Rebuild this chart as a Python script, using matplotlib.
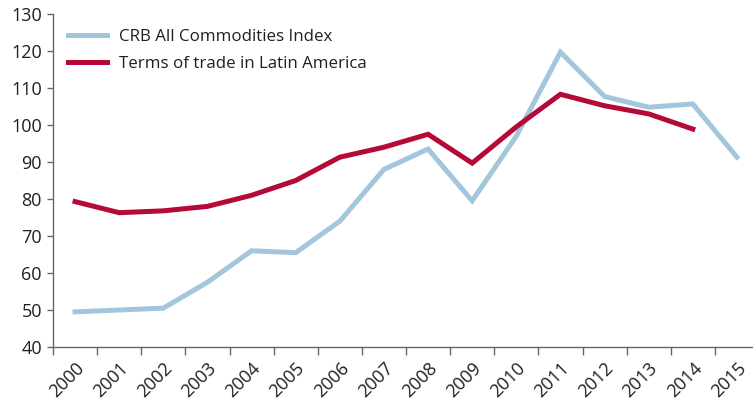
import matplotlib
matplotlib.use("Agg")
import matplotlib.pyplot as plt
import numpy as np

years = [str(y) for y in range(2000, 2016)]
crb_index = [49.5, 50.0, 50.5, 57.5, 66.0, 65.5, 74.0, 88.0, 93.5, 79.5,
             97.0, 119.7, 107.7, 104.8, 105.7, 91.3]
terms_of_trade = [79.3, 76.3, 76.8, 78.0, 81.0, 85.0, 91.3, 94.0, 97.5, 89.7,
                  99.5, 108.3, 105.2, 103.0, 98.9]

plt.rcParams['font.family'] = ['Open Sans', 'DejaVu Sans']

fig = plt.figure(figsize=(7.53, 4.04), dpi=100)
ax = fig.add_axes([53 / 753, 57 / 404, (759 - 53) / 753, (347 - 14) / 404])

x = np.arange(len(years))
ax.plot(x, crb_index, color='#a3c6dc', lw=3.6, solid_joinstyle='miter',
        label='CRB All Commodities Index')
ax.plot(x[:len(terms_of_trade)], terms_of_trade, color='#b50938', lw=3.6,
        solid_joinstyle='miter', label='Terms of trade in Latin America')

ax.set_xlim(-0.5, len(years) - 0.5)
ax.set_ylim(40, 130)
ax.set_yticks(np.arange(40, 131, 10))

ax.set_xticks(x)
ax.set_xticklabels(years, rotation=45, ha='right', rotation_mode='anchor')
ax.set_xticks(np.arange(-0.5, len(years), 1.0), minor=True)
ax.tick_params(axis='x', which='major', length=0, pad=9)
ax.tick_params(axis='x', which='minor', length=6, width=1, color='#666666')
ax.tick_params(axis='y', length=4, width=1, color='#666666', pad=4)
ax.tick_params(labelsize=13, labelcolor='#231f20')

for side in ('top', 'right'):
    ax.spines[side].set_visible(False)
for side in ('left', 'bottom'):
    ax.spines[side].set_color('#666666')
    ax.spines[side].set_linewidth(1.0)

ax.legend(loc='upper left', bbox_to_anchor=(0.0, 1.0), frameon=False,
          fontsize=12.2, handlelength=2.3, handletextpad=0.7,
          labelspacing=0.62, borderaxespad=0.5, labelcolor='#231f20')

fig.savefig('out.png', dpi=100)
